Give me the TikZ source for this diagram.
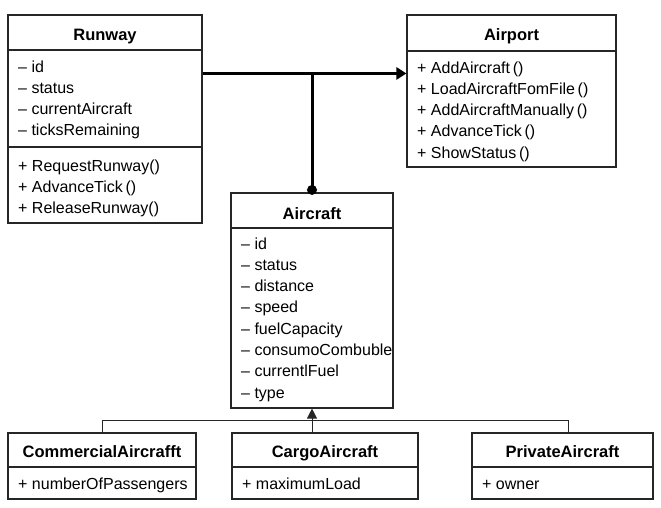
\documentclass[tikz,border=0pt]{standalone}
\usepackage{fontspec}
\setmainfont{Liberation Sans}
\usetikzlibrary{arrows.meta}
\begin{document}
\begin{tikzpicture}[x=1pt,y=-1pt,
  box/.style={draw=black!85, line width=1.1pt, rectangle, inner sep=0pt},
  sep/.style={draw=black!85, line width=1.1pt},
  ttl/.style={font=\bfseries\fontsize{16.5}{20}\selectfont, inner sep=0pt, anchor=base},
  itm/.style={font=\fontsize{16}{19}\selectfont, inner sep=0pt, anchor=base west},
  assoc/.style={line width=3pt, -{Triangle[length=10pt,width=12pt]}},
  thickline/.style={line width=3pt},
  genline/.style={line width=1pt, draw=black!85},
  gen/.style={line width=1pt, draw=black!85, -{Triangle[length=10pt,width=10pt]}}]
\useasboundingbox (0,0) rectangle (661,507);
\fill[white] (0,0) rectangle (661,507);

% boxes
\node[box, minimum width=194pt, minimum height=208pt] (runway) at (105,119) {};
\node[box, minimum width=209pt, minimum height=152pt] (airport) at (511.5,91) {};
\node[box, minimum width=162pt, minimum height=215pt] (aircraft) at (312,300.5) {};
\node[box, minimum width=188pt, minimum height=66pt] (commercial) at (102,466) {};
\node[box, minimum width=186pt, minimum height=66pt] (cargo) at (325,466) {};
\node[box, minimum width=181pt, minimum height=66pt] (private) at (562.5,466) {};

% separators
\draw[sep] (8,50) -- (202,50);
\draw[sep] (8,147) -- (202,147);
\draw[sep] (407,51) -- (616,51);
\draw[sep] (231,228) -- (393,228);
\draw[sep] (8,467) -- (196,467);
\draw[sep] (232,467) -- (418,467);
\draw[sep] (472,467) -- (653,467);

% titles
\node[ttl] (trunway) at (105,40) {Runway};
\node[ttl] (tairport) at (511.5,40) {Airport};
\node[ttl] (taircraft) at (312,219) {Aircraft};
\node[ttl] (tcommercial) at (102,457) {CommercialAircrafft};
\node[ttl] (tcargo) at (325,457) {CargoAircraft};
\node[ttl] (tprivate) at (562.5,457) {PrivateAircraft};

% Runway
\foreach \t [count=\i] in {{– id},{– status},{– currentAircraft},{– ticksRemaining}}
  \node[itm] (ra\i) at (18,{72+21.3*(\i-1)}) {\t};
\foreach \t [count=\i] in {{+ RequestRunway()},{+ AdvanceTick\,()},{+ ReleaseRunway()}}
  \node[itm] (rm\i) at (18,{171+21.3*(\i-1)}) {\t};

% Airport
\foreach \t [count=\i] in {{+ AddAircraft\,()},{+ LoadAircraftFomFile\,()},{+ AddAircraftManually\,()},{+ AdvanceTick\,()},{+ ShowStatus\,()}}
  \node[itm] (am\i) at (417,{73+21.3*(\i-1)}) {\t};

% Aircraft
\foreach \t [count=\i] in {{– id},{– status},{– distance},{– speed},{– fuelCapacity},{– consumoCombuble},{– currentlFuel},{– type}}
  \node[itm] (ca\i) at (241,{249+21.3*(\i-1)}) {\t};

% subclasses
\node[itm] (cm1) at (18,489) {+ numberOfPassengers};
\node[itm] (gm1) at (242,489) {+ maximumLoad};
\node[itm] (pm1) at (482,489) {+ owner};

% association connectors
\path ([yshift=-59pt]runway.north east) coordinate (r1);
\coordinate (j) at (r1 -| aircraft.north);
\draw[assoc] (r1) -- (r1 -| airport.west);
\draw[thickline] (j) -- ([yshift=2.5pt]aircraft.north);
\fill ([yshift=2.5pt]aircraft.north) circle (5pt);

% generalization
\path (aircraft.south) ++(0,12) coordinate (hb);
\draw[genline] (commercial.north) |- (hb) -| ([xshift=5.5pt]private.north);
\draw[gen] (aircraft.south |- cargo.north) -- (aircraft.south);
\end{tikzpicture}
\end{document}
